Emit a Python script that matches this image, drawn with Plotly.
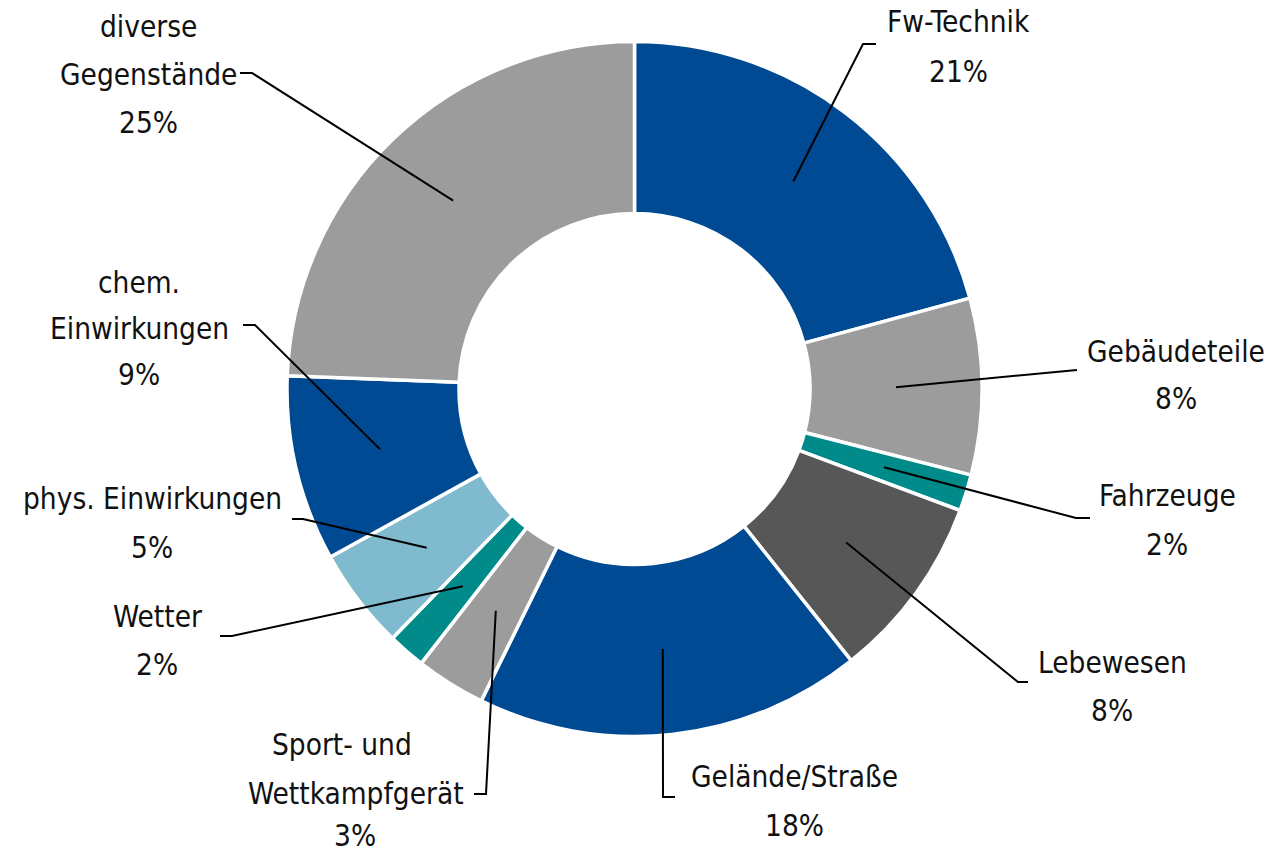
import math
import plotly.graph_objects as go

# ---- data ----
categories = ["Fw-Technik", "Gebäudeteile", "Fahrzeuge", "Lebewesen", "Gelände/Straße",
              "Sport- und Wettkampfgerät", "Wetter", "phys. Einwirkungen",
              "chem. Einwirkungen", "diverse Gegenstände"]
values = [20.8, 8.2, 1.7, 8.6, 18.0, 3.25, 1.75, 4.7, 8.65, 24.4]
pct_labels = ["21%", "8%", "2%", "8%", "18%", "3%", "2%", "5%", "9%", "25%"]
label_lines = [["Fw-Technik"], ["Gebäudeteile"], ["Fahrzeuge"], ["Lebewesen"],
               ["Gelände/Straße"], ["Sport- und", "Wettkampfgerät"], ["Wetter"],
               ["phys. Einwirkungen"], ["chem.", "Einwirkungen"], ["diverse", "Gegenstände"]]

BLUE = "#004a93"
GRAY = "#9c9c9c"
TEAL = "#008b8a"
DGRAY = "#575757"
LBLUE = "#7fbace"
colors = [BLUE, GRAY, TEAL, DGRAY, BLUE, GRAY, TEAL, LBLUE, BLUE, GRAY]

# ---- layout (pixels) ----
W, H = 1273, 854
CX, CY, R = 634.5, 389.0, 347.5
HOLE = 0.505
FONT = "DejaVu Sans Condensed, DejaVu Sans, sans-serif"
FS = 29.5

# label placement: (line x centers, line y positions, elbow point, end point)
placement = [
    ([958, 958], [22, 72], (863, 44), (876, 44)),
    ([1176, 1176], [352, 399], (1077, 370), (1077, 370)),
    ([1167, 1167], [496, 545], (1076, 518), (1090, 518)),
    ([1112, 1112], [663, 711], (1018, 682), (1028, 682)),
    ([794, 794], [777, 826], (663, 797), (675, 797)),
    ([342, 356, 355], [745, 794, 836], (486, 794), (474, 794)),
    ([157, 157], [617, 665], (232, 636), (220, 636)),
    ([152, 152], [499, 548], (303, 519), (292, 519)),
    ([139, 139, 139], [283, 329, 375], (255, 325), (243, 325)),
    ([148, 148, 148], [27, 75, 123], (252, 73), (240, 73)),
]

fig = go.Figure()
fig.add_trace(go.Pie(
    labels=categories, values=values, sort=False, direction="clockwise", rotation=0,
    hole=HOLE, textinfo="none", hoverinfo="label+percent",
    marker=dict(colors=colors, line=dict(color="white", width=3.5)),
    domain=dict(x=[(CX - R) / W, (CX + R) / W], y=[(H - CY - R) / H, (H - CY + R) / H]),
    showlegend=False,
))

# leader lines, starting at each slice's mid-angle / mid-radius
total = sum(values)
rmid = R * (1 + HOLE) / 2
shapes = []
cum = 0.0
for v, (_, _, elbow, end) in zip(values, placement):
    a = math.radians((cum + v / 2) / total * 360)
    cum += v
    sx, sy = CX + rmid * math.sin(a), CY - rmid * math.cos(a)
    path = f"M {sx:.1f},{sy:.1f} L {elbow[0]},{elbow[1]} L {end[0]},{end[1]}"
    shapes.append(dict(type="path", path=path, xref="x", yref="y", layer="above",
                       line=dict(color="black", width=2)))

annotations = []
for lines, pct, (xs, ys, _, _) in zip(label_lines, pct_labels, placement):
    for t, x, y in zip(lines + [pct], xs, ys):
        annotations.append(dict(x=x, y=y, text=t, showarrow=False,
                                xref="x", yref="y", xanchor="center", yanchor="middle",
                                font=dict(family=FONT, size=FS, color="#111111")))

fig.update_layout(
    width=W, height=H, margin=dict(l=0, r=0, t=0, b=0),
    paper_bgcolor="white", plot_bgcolor="rgba(0,0,0,0)",
    xaxis=dict(range=[0, W], visible=False, fixedrange=True),
    yaxis=dict(range=[H, 0], visible=False, fixedrange=True),
    annotations=annotations, shapes=shapes,
)
fig.write_html("out.html")
